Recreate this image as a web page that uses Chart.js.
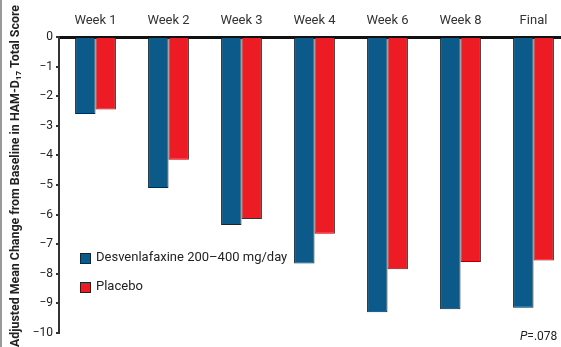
<!DOCTYPE html>
<html>
<head>
<meta charset="UTF-8">
<title>HAM-D17 change from baseline</title>
<script src="https://cdn.jsdelivr.net/npm/chart.js@4.4.1/dist/chart.umd.min.js"></script>
<style>
  html, body { margin: 0; padding: 0; overflow: hidden; background: #fff; }
  #wrap { position: relative; width: 570px; height: 347px; }
</style>
</head>
<body>
<div id="wrap"><canvas id="myChart"></canvas></div>
<script>
// data
var weeks = ['Week 1', 'Week 2', 'Week 3', 'Week 4', 'Week 6', 'Week 8', 'Final'];
var desvenlafaxine = [-2.6, -5.1, -6.35, -7.65, -9.3, -9.2, -9.15];
var placebo = [-2.45, -4.15, -6.15, -6.65, -7.85, -7.6, -7.55];
var yTicks = [0, -1, -2, -3, -4, -5, -6, -7, -8, -9, -10];
var yTitle = 'Adjusted Mean Change from Baseline in HAM-D\u2081\u2087 Total Score';
var pNote = '.078';

var FONT = "'Liberation Sans Narrow', 'Roboto', sans-serif";
var BLUE = '#0b5a8a';
var RED = '#ed1c24';

// legend inside the plot, y title, P value note
var extras = {
  id: 'extras',
  afterDraw: function (chart) {
    var ctx = chart.ctx;
    ctx.save();
    // thin frame line on the left edge
    ctx.fillStyle = '#999';
    ctx.fillRect(0, 0, 2, 347);

    // y axis title, squeezed to look like the condensed original
    ctx.save();
    ctx.translate(16, 176);
    ctx.rotate(-Math.PI / 2);
    ctx.font = 'bold 13px ' + FONT;
    ctx.fillStyle = '#222';
    ctx.textAlign = 'center';
    ctx.textBaseline = 'middle';
    ctx.fillText(yTitle, 0, 0, 342);
    ctx.restore();

    ctx.font = '13px ' + FONT;
    ctx.textBaseline = 'middle';
    ctx.textAlign = 'left';
    chart.data.datasets.forEach(function (ds, i) {
      var y = 258 + i * 29;
      ctx.fillStyle = ds.backgroundColor;
      ctx.fillRect(80, y - 5, 10, 10);
      ctx.strokeStyle = '#222';
      ctx.lineWidth = 1;
      ctx.strokeRect(80.5, y - 4.5, 10, 10);
      ctx.fillStyle = '#222';
      ctx.fillText(ds.label, 96, y);
    });
    ctx.font = 'italic 12px ' + FONT;
    ctx.fillStyle = '#222';
    ctx.fillText('P', 520, 337);
    var w = ctx.measureText('P').width;
    ctx.font = '12px ' + FONT;
    ctx.fillText('=' + pNote, 520 + w, 337);
    ctx.restore();
  }
};

var ctx = document.getElementById('myChart').getContext('2d');
var chart = new Chart(ctx, {
  type: 'bar',
  data: {
    labels: weeks,
    datasets: [
      {
        label: 'Desvenlafaxine 200\u2013400 mg/day',
        data: desvenlafaxine,
        backgroundColor: BLUE,
        borderColor: '#222',
        borderWidth: 1
      },
      {
        label: 'Placebo',
        data: placebo,
        backgroundColor: RED,
        borderColor: '#333',
        borderWidth: 1
      }
    ]
  },
  options: {
    responsive: true,
    maintainAspectRatio: false,
    animation: false,
    layout: { padding: { left: 0, right: 0, top: 0, bottom: 14 } },
    datasets: { bar: { barPercentage: 1, categoryPercentage: 0.56 } },
    plugins: {
      legend: { display: false },
      tooltip: { enabled: false }
    },
    scales: {
      x: {
        position: 'top',
        grid: { display: true, drawOnChartArea: false, drawTicks: false },
        border: { display: true, width: 3, color: '#111' },
        ticks: { color: '#333', font: { family: FONT, size: 13 }, padding: 8 },
        afterFit: function (s) { s.height = 37; }
      },
      y: {
        min: -10,
        max: 0,
        afterBuildTicks: function (s) { s.ticks = yTicks.map(function (v) { return { value: v }; }); },
        grid: { drawOnChartArea: false, drawTicks: true, tickLength: 3, color: '#333', lineWidth: 2 },
        border: { display: true, width: 2, color: '#333' },
        ticks: {
          color: '#222',
          font: { family: FONT, size: 12 },
          padding: 3,
          callback: function (v) { return v === 0 ? '0' : '\u2212' + Math.abs(v); }
        },
        afterFit: function (s) { s.width = 59; }
      }
    }
  },
  plugins: [extras]
});
</script>
</body>
</html>
